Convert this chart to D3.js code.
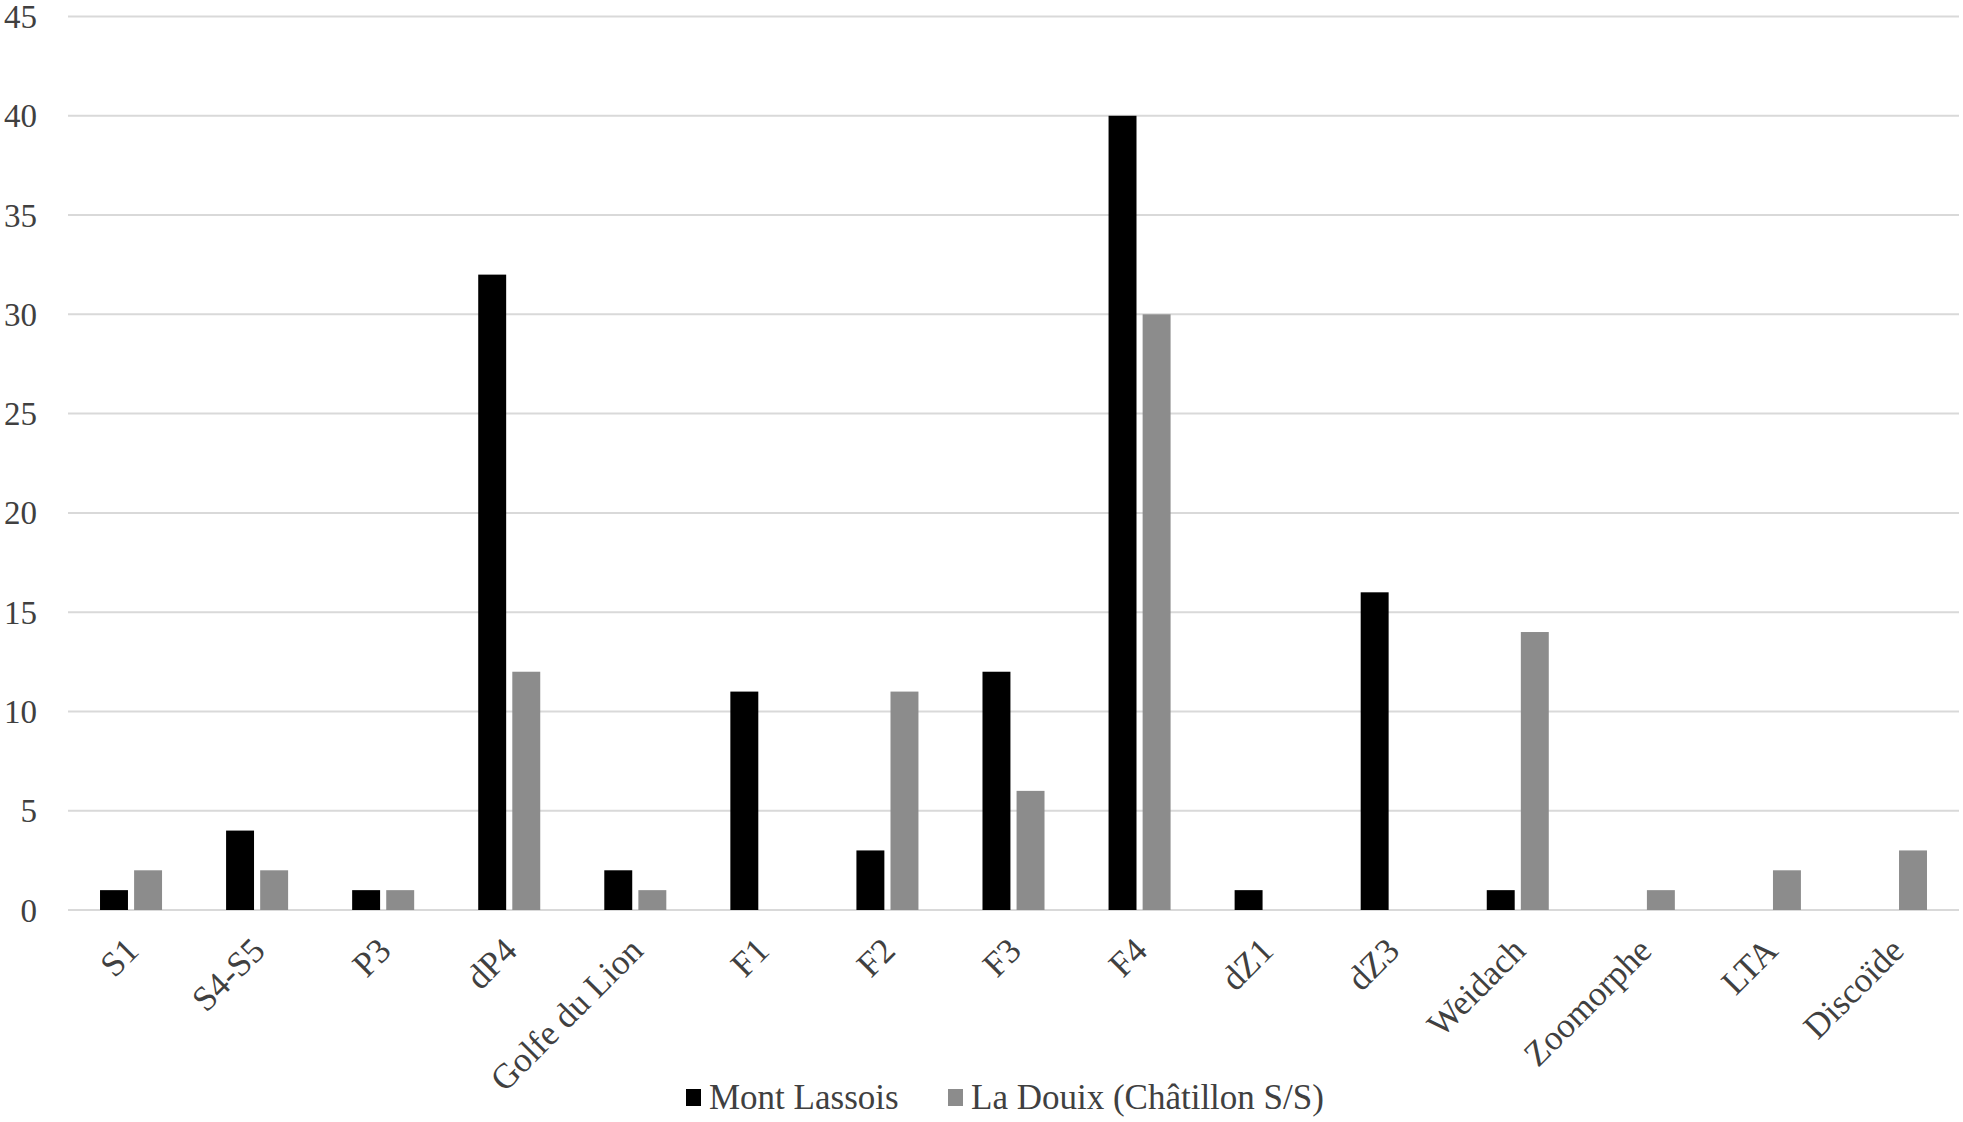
<!DOCTYPE html>
<html>
<head>
<meta charset="utf-8">
<script src="https://cdn.jsdelivr.net/npm/d3@7"></script>
<style>
  body { margin: 0; background: #fff; }
  text { font-family: "Liberation Serif", "Times New Roman", serif; fill: #404040; }
</style>
</head>
<body>
<svg id="chart" width="1963" height="1122"></svg>
<script>
const categories = ["S1", "S4-S5", "P3", "dP4", "Golfe du Lion", "F1", "F2", "F3", "F4",
  "dZ1", "dZ3", "Weidach", "Zoomorphe", "LTA", "Discoïde"];
const seriesNames = ["Mont Lassois", "La Douix (Châtillon S/S)"];
const montLassois = [1, 4, 1, 32, 2, 11, 3, 12, 40, 1, 16, 1, 0, 0, 0];
const laDouix = [2, 2, 1, 12, 1, 0, 11, 6, 30, 0, 0, 14, 1, 2, 3];
const yTicks = [0, 5, 10, 15, 20, 25, 30, 35, 40, 45];
const colors = ["#000000", "#8c8c8c"];

const svg = d3.select("#chart");
const plotLeft = 68, plotRight = 1959, plotTop = 16.5, plotBottom = 910;

const x0 = d3.scaleBand().domain(categories).range([plotLeft, plotRight])
  .paddingInner(0.508).paddingOuter(0.254);
const x1 = d3.scaleBand().domain([0, 1]).range([0, x0.bandwidth()]).paddingInner(0.18);
const y = d3.scaleLinear().domain([0, 45]).range([plotBottom, plotTop]);

// gridlines
svg.append("g").selectAll("line").data(yTicks).join("line")
  .attr("x1", plotLeft).attr("x2", plotRight)
  .attr("y1", d => y(d)).attr("y2", d => y(d))
  .attr("stroke", "#d9d9d9").attr("stroke-width", 2);

// y labels
svg.append("g").selectAll("text").data(yTicks).join("text")
  .attr("x", 37).attr("y", d => y(d))
  .attr("dy", "0.35em").attr("text-anchor", "end")
  .attr("font-size", 33).text(d => d);

// bars
const series = [montLassois, laDouix];
series.forEach((vals, s) => {
  svg.append("g").selectAll("rect").data(vals).join("rect")
    .attr("x", (d, i) => x0(categories[i]) + x1(s))
    .attr("width", x1.bandwidth())
    .attr("y", d => y(d))
    .attr("height", d => y(0) - y(d))
    .attr("fill", colors[s]);
});

// x labels
svg.append("g").selectAll("text").data(categories).join("text")
  .attr("transform", d => `translate(${x0(d) + x0.bandwidth() / 2 + 1},${plotBottom + 34}) rotate(-45)`)
  .attr("text-anchor", "end").attr("dy", "0.35em")
  .attr("font-size", 35).text(d => d);

// legend
const legend = svg.append("g").attr("transform", "translate(0,1097)");
const legendX = [686, 948];
seriesNames.forEach((name, s) => {
  legend.append("rect").attr("x", legendX[s]).attr("y", -8)
    .attr("width", 15).attr("height", 17).attr("fill", colors[s]);
  legend.append("text").attr("x", legendX[s] + 23).attr("y", 0)
    .attr("dy", "0.35em").attr("font-size", 35).text(name);
});
</script>
</body>
</html>
